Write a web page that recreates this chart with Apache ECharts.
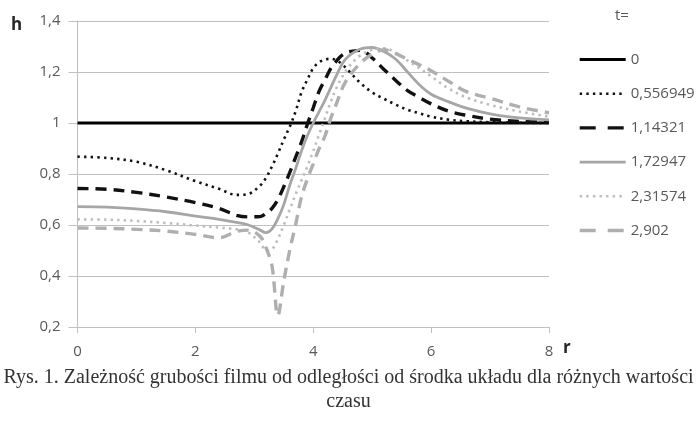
<!DOCTYPE html>
<html>
<head>
<meta charset="utf-8">
<script src="https://cdn.jsdelivr.net/npm/echarts@6/dist/echarts.min.js"></script>
<style>
  html, body { margin: 0; padding: 0; background: #fff; }
  #chart { width: 697px; height: 421px; }
</style>
</head>
<body>
<div id="chart"></div>
<script>
// Distance from the centre of the system, r
const rValues = [0, 0.5, 1, 1.5, 2, 2.4, 2.7, 2.9, 3.1, 3.2, 3.3, 3.4, 3.5, 3.6, 3.7, 3.8, 3.9, 4.0,
  4.1, 4.2, 4.3, 4.4, 4.5, 4.6, 4.8, 5.0, 5.2, 5.4, 5.6, 5.8, 6.0, 6.3, 6.6, 7.0, 7.5, 8.0];

// Film thickness h(r) for each time t
const hT0 = rValues.map(() => 1);
const hT1 = [0.868, 0.863, 0.848, 0.815, 0.772, 0.742, 0.718, 0.722, 0.755, 0.785, 0.83, 0.88, 0.935, 0.985,
  1.045, 1.12, 1.17, 1.215, 1.238, 1.249, 1.252, 1.245, 1.228, 1.205, 1.157, 1.12, 1.095, 1.072, 1.052,
  1.038, 1.025, 1.013, 1.007, 1.003, 1.001, 1.0];
const hT2 = [0.743, 0.74, 0.728, 0.71, 0.688, 0.665, 0.638, 0.632, 0.633, 0.645, 0.665, 0.7, 0.75, 0.805,
  0.865, 0.925, 0.995, 1.06, 1.125, 1.17, 1.215, 1.245, 1.268, 1.279, 1.285, 1.255, 1.21, 1.167, 1.127,
  1.1, 1.075, 1.046, 1.03, 1.015, 1.006, 1.003];
const hT3 = [0.672, 0.67, 0.663, 0.652, 0.635, 0.622, 0.61, 0.6, 0.58, 0.57, 0.585, 0.625, 0.68, 0.755,
  0.82, 0.89, 0.95, 1.0, 1.045, 1.09, 1.14, 1.19, 1.235, 1.262, 1.29, 1.296, 1.28, 1.25, 1.2, 1.15,
  1.113, 1.083, 1.058, 1.036, 1.02, 1.012];
const hT4 = [0.622, 0.621, 0.616, 0.608, 0.598, 0.59, 0.583, 0.57, 0.53, 0.5, 0.505, 0.545, 0.6, 0.66,
  0.72, 0.775, 0.83, 0.89, 0.955, 1.02, 1.085, 1.14, 1.185, 1.22, 1.265, 1.287, 1.293, 1.275, 1.245,
  1.215, 1.183, 1.135, 1.1, 1.071, 1.045, 1.025];
const hT5 = [0.588, 0.587, 0.583, 0.576, 0.563, 0.55, 0.575, 0.58, 0.555, 0.51, 0.44, 0.245, 0.38, 0.5,
  0.6, 0.71, 0.78, 0.84, 0.9, 0.95, 1.02, 1.08, 1.14, 1.18, 1.235, 1.27, 1.287, 1.272, 1.25, 1.228,
  1.205, 1.163, 1.123, 1.097, 1.063, 1.04];

// Legend labels (time values)
const tLabels = ['0', '0,556949', '1,14321', '1,72947', '2,31574', '2,902'];
const hSeries = [hT0, hT1, hT2, hT3, hT4, hT5];

// Axis ticks
const rTicks = { min: 0, max: 8, step: 2 };
const hTicks = { min: 0.2, max: 1.4, step: 0.2 };

const styles = [
  { color: '#000000', width: 3, type: 'solid', legendType: 'solid' },
  { color: '#111111', width: 2.6, type: [2.4, 4.2], legendType: [2.4, 4.2] },
  { color: '#111111', width: 3.4, type: [11, 7], legendType: [16, 12] },
  { color: '#a6a6a6', width: 2.8, type: 'solid', legendType: 'solid' },
  { color: '#bdbdbd', width: 2.6, type: [2.4, 4.2], legendType: [2.4, 4.2] },
  { color: '#afafaf', width: 3.4, type: [11, 7], legendType: [16, 12] }
];

const labelFont = '"Open Sans", sans-serif';
const labelColor = '#595959';
const gridColor = '#c0c0c0';
const commaFmt = v => String(+(+v).toFixed(1)).replace('.', ',');

const chart = echarts.init(document.getElementById('chart'), null, { renderer: 'canvas' });

chart.setOption({
  animation: false,
  backgroundColor: '#ffffff',
  grid: { left: 77.5, right: 148, top: 21, bottom: 94, containLabel: false },
  xAxis: {
    type: 'value',
    min: rTicks.min, max: rTicks.max, interval: rTicks.step,
    axisLine: { show: true, lineStyle: { color: gridColor, width: 1 } },
    axisTick: { show: true, length: 6, lineStyle: { color: gridColor } },
    splitLine: { show: false },
    axisLabel: { color: labelColor, fontFamily: labelFont, fontSize: 15, margin: 17, formatter: commaFmt }
  },
  yAxis: {
    type: 'value',
    min: hTicks.min, max: hTicks.max, interval: hTicks.step,
    axisLine: { show: true, lineStyle: { color: gridColor, width: 1 } },
    axisTick: { show: true, length: 9, lineStyle: { color: gridColor } },
    splitLine: { show: true, lineStyle: { color: gridColor, width: 1 } },
    axisLabel: { color: labelColor, fontFamily: labelFont, fontSize: 15, margin: 17, formatter: commaFmt }
  },
  legend: {
    orient: 'vertical',
    left: 573, top: 47,
    itemWidth: 46, itemHeight: 16, itemGap: 19.2,
    textStyle: { color: labelColor, fontFamily: labelFont, fontSize: 15 },
    itemStyle: { opacity: 0 },
    data: tLabels.map((name, i) => ({
      name,
      itemStyle: { opacity: 0 },
      lineStyle: { type: styles[i].legendType, width: styles[i].width, color: styles[i].color }
    }))
  },
  series: hSeries.map((h, i) => ({
    name: tLabels[i],
    type: 'line',
    data: rValues.map((r, k) => [r, h[k]]),
    smooth: 0.35,
    showSymbol: false,
    symbol: 'none',
    lineStyle: { color: styles[i].color, width: styles[i].width, type: styles[i].type, cap: 'butt' },
    itemStyle: { color: styles[i].color },
    z: 2 + i
  })),
  graphic: [
    { type: 'text', left: 11, top: 17, style: { text: 'h', font: 'bold 17px "Open Sans", sans-serif', fill: '#262626' } },
    { type: 'text', left: 563, top: 340, style: { text: 'r', font: 'bold 17px "Open Sans", sans-serif', fill: '#262626' } },
    { type: 'text', left: 615, top: 8, style: { text: 't=', font: '15px "Open Sans", sans-serif', fill: labelColor } },
    {
      type: 'text', x: 348.5, y: 366,
      style: {
        text: 'Rys. 1. Zależność grubości filmu od odległości od środka układu dla różnych wartości\nczasu',
        font: '20px "Liberation Serif", serif', fill: '#333333', align: 'center', verticalAlign: 'top', lineHeight: 24
      }
    }
  ]
});
</script>
</body>
</html>
